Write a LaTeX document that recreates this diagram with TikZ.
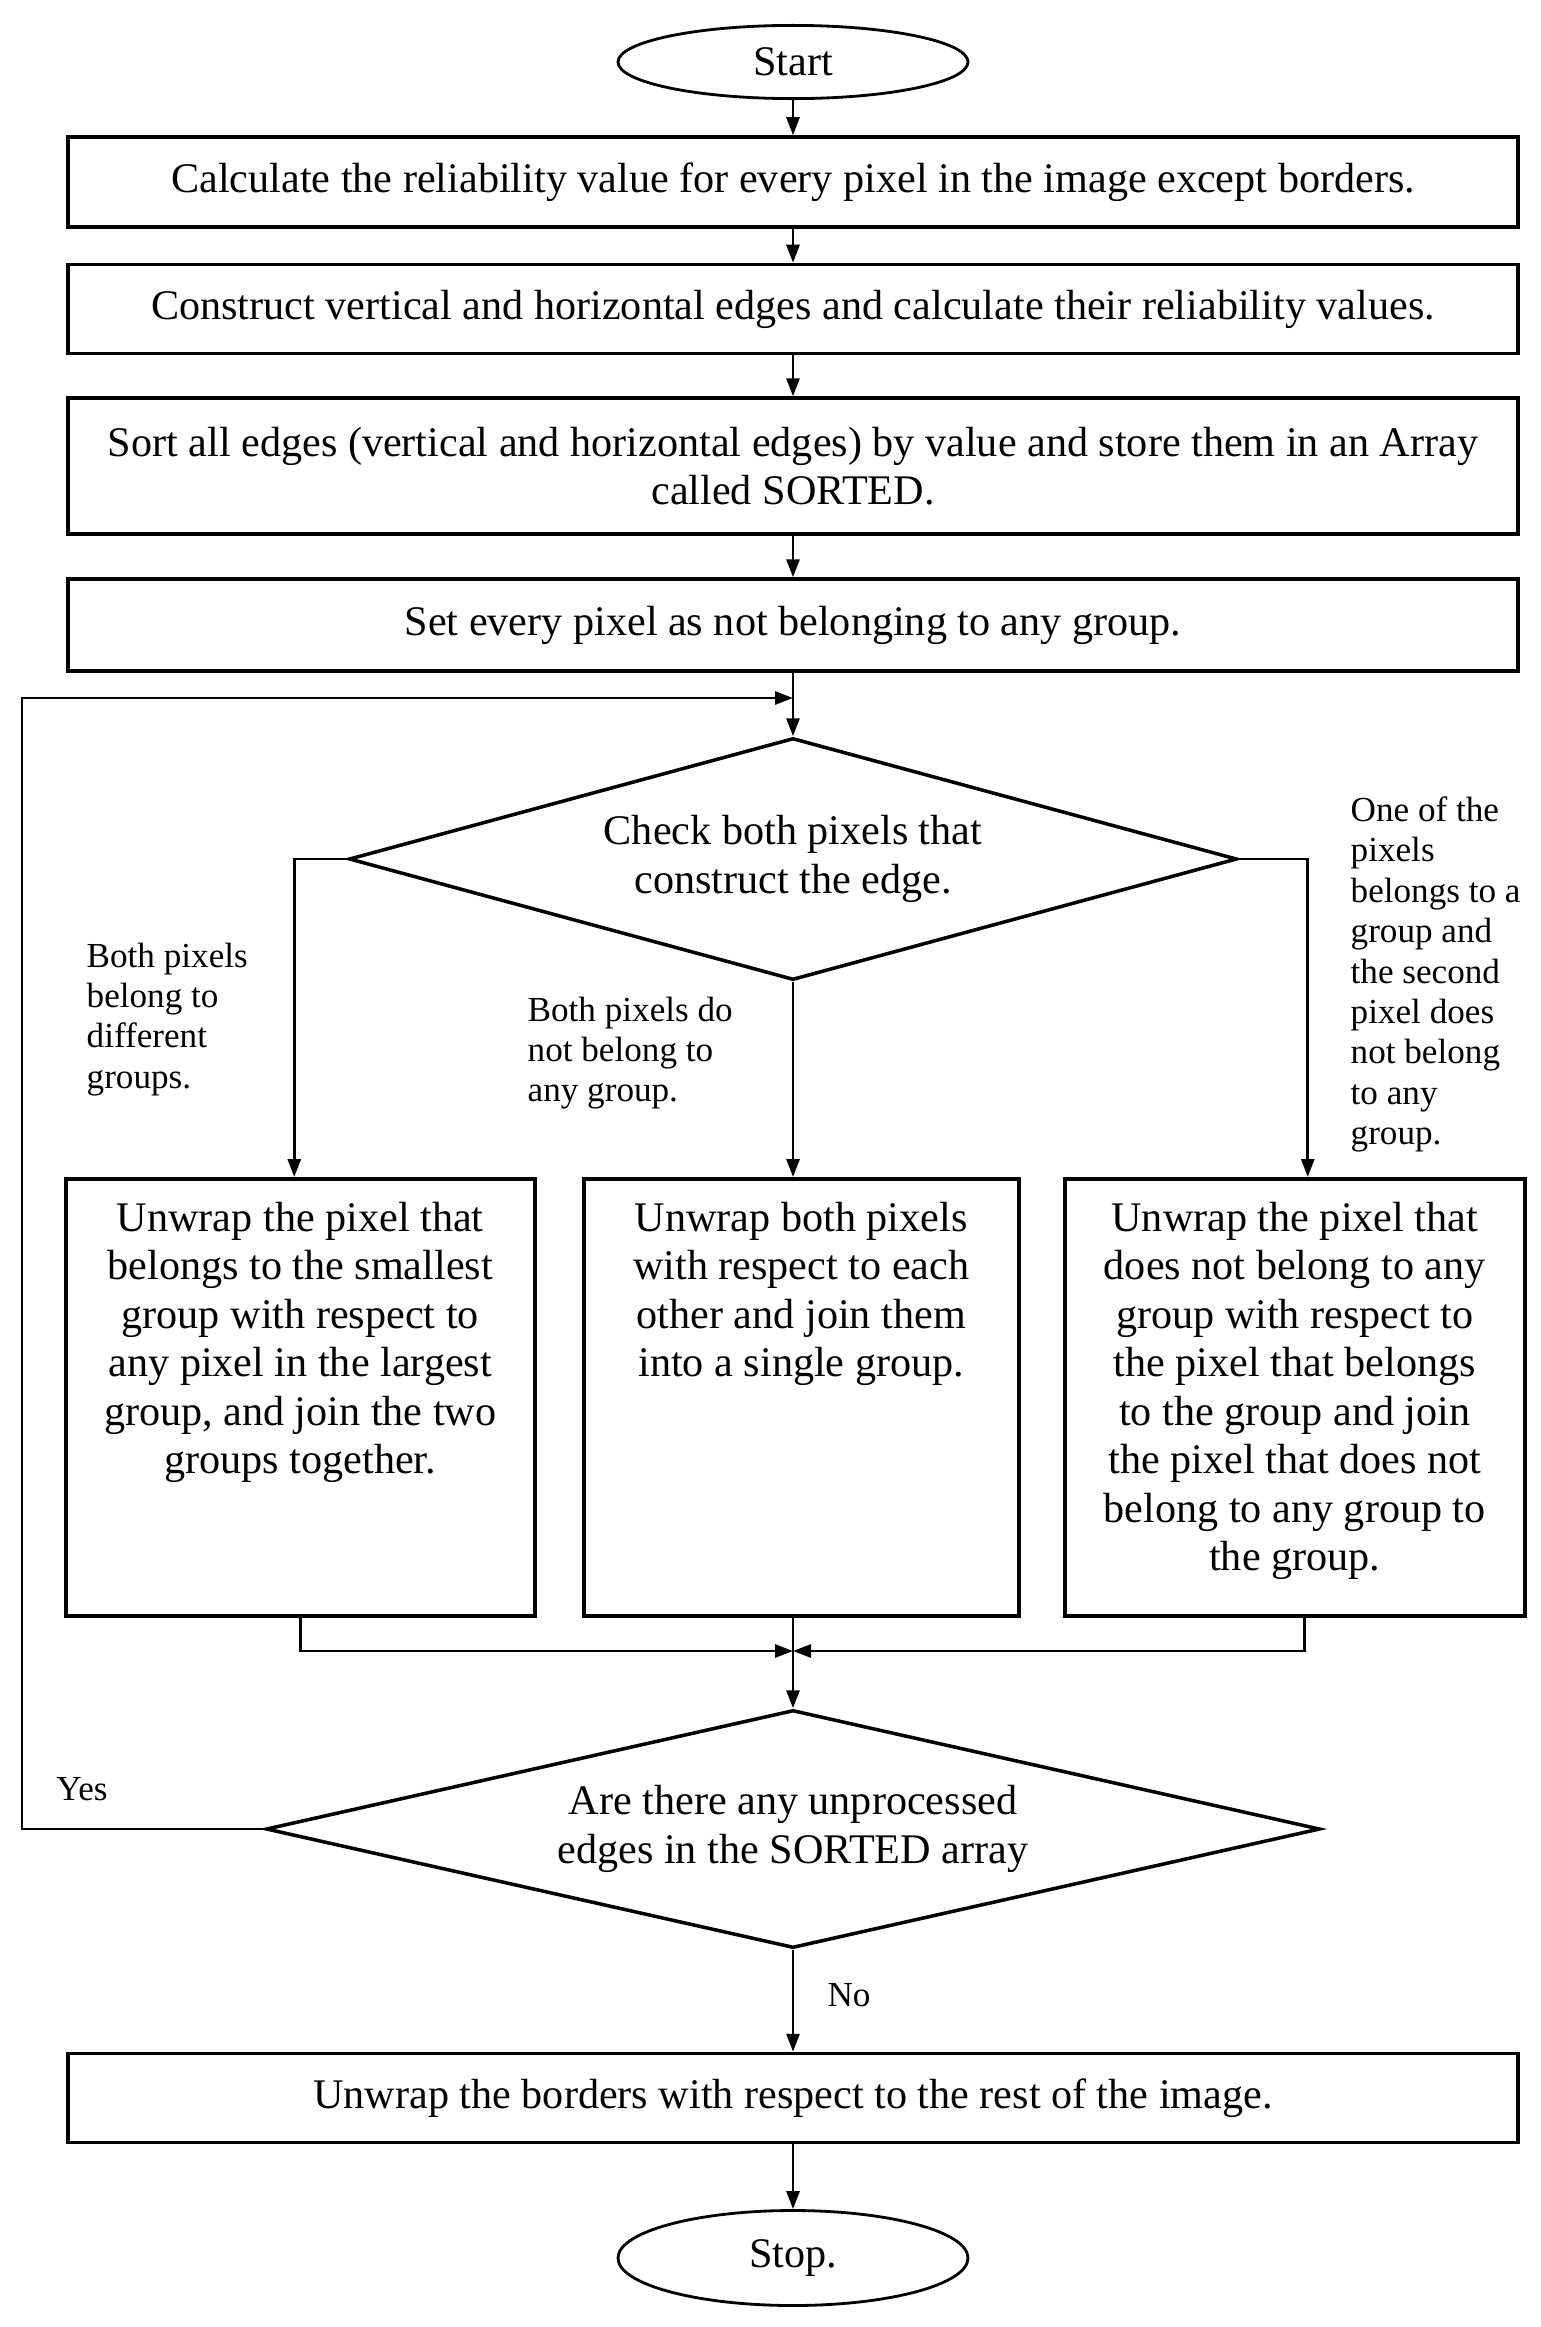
\documentclass[tikz,border=0pt]{standalone}
\usepackage{fontspec}
\setmainfont{Liberation Serif}
\usetikzlibrary{shapes.geometric,arrows.meta}

\tikzset{
	box/.style={draw, line width=1pt, minimum width=145mm, align=center, font=\fontsize{12}{13.8}\selectfont},
	term/.style={draw, line width=0.8pt, ellipse, minimum width=35mm, minimum height=7mm, font=\fontsize{12}{13.8}\selectfont},
	cond/.style={draw, line width=1pt, diamond, align=center, font=\fontsize{12}{13.8}\selectfont},
	rowbox/.style={draw, line width=1pt, anchor=north west, inner sep=0pt, font=\fontsize{12}{13.8}\selectfont},
	note/.style={anchor=north west, inner sep=0pt, align=left, font=\fontsize{10}{11.5}\selectfont},
	arr/.style={line width=0.8pt, -{Triangle[length=1.8mm,width=1.3mm]}}
}

\begin{document}
\begin{tikzpicture}[x=0.1mm, y=-0.1mm]
	
	\useasboundingbox (0,0) rectangle (1541,2327);
	
	%--- Main column ---
	\node[term] (start) at (793,62) {Start};
	\node[box, minimum height=9mm] (calc) at (793,182) {Calculate the reliability value for every pixel in the image except borders.};
	\node[box, minimum height=8.9mm] (edges) at (793,309) {Construct vertical and horizontal edges and calculate their reliability values.};
	\node[box, minimum height=13.6mm] (sort) at (793,466) {Sort all edges (vertical and horizontal edges) by value and store them in an Array\\called SORTED.};
	\node[box, minimum height=9.2mm] (init) at (793,625) {Set every pixel as not belonging to any group.};
	
	%--- First decision ---
	\node[cond, aspect=3.6, minimum width=88.8mm, minimum height=24.2mm] (check) at (793,859) {Check both pixels that\\construct the edge.};
	
	%--- Three cases ---
	\node[rowbox] (bl) at (64,1177) {\parbox[t][43.7mm][t]{46.9mm}{\centering\vspace*{2.3mm}Unwrap the pixel that\\belongs to the smallest\\group with respect to\\any pixel in the largest\\group, and join the two\\groups together.}};
	\node[rowbox] (bm) at (582,1177) {\parbox[t][43.7mm][t]{43.5mm}{\centering\vspace*{2.3mm}Unwrap both pixels\\with respect to each\\other and join them\\into a single group.}};
	\node[rowbox] (br) at (1063,1177) {\parbox[t][43.7mm][t]{46mm}{\centering\vspace*{2.3mm}Unwrap the pixel that\\does not belong to any\\group with respect to\\the pixel that belongs\\to the group and join\\the pixel that does not\\belong to any group to\\the group.}};
	
	\node[note] (lbll) at (86,942) {Both pixels\\belong to\\different\\groups.};
	\node[note] (lblm) at (527,996) {Both pixels do\\not belong to\\any group.};
	\node[note] (lblr) at (1350,796) {One of the\\pixels\\belongs to a\\group and\\the second\\pixel does\\not belong\\to any\\group.};
	
	%--- Second decision ---
	\node[cond, aspect=4.5, minimum width=105.4mm, minimum height=23.8mm] (more) at (793,1829) {Are there any unprocessed\\edges in the SORTED array};
	\node[font=\fontsize{10}{11.5}\selectfont] (yes) at (82,1789) {Yes};
	\node[font=\fontsize{10}{11.5}\selectfont] (no) at (849,1995) {No};
	
	%--- End ---
	\node[box, minimum height=8.9mm] (border) at (793,2098) {Unwrap the borders with respect to the rest of the image.};
	\node[term, minimum height=9.5mm] (stop) at (793,2258) {Stop.};
	
	%--- Connectors ---
	\coordinate (loopc) at (22,698);
	\coordinate (merge) at (793,698);
	\coordinate (join) at (793,1651);
	
	\draw[arr] (start) -- (calc);
	\draw[arr] (calc) -- (edges);
	\draw[arr] (edges) -- (sort);
	\draw[arr] (sort) -- (init);
	\draw[arr] (init) -- (check);
	\draw[arr] (check.west) -| ([xshift=-0.6mm]bl.north);
	\draw[arr] (check.south) -- (check.south |- bm.north);
	\draw[arr] (check.east) -| ([xshift=1.3mm]br.north);
	\draw[arr] (bl.south) |- (join);
	\draw[arr] ([xshift=1mm]br.south) |- (join);
	\draw[arr] (more.north |- bm.south) -- (more.north);
	\draw[arr] (more.west) -| (loopc) -- (merge);
	\draw[arr] (more.south) -- (border);
	\draw[arr] (border) -- (stop);
	
\end{tikzpicture}
\end{document}
